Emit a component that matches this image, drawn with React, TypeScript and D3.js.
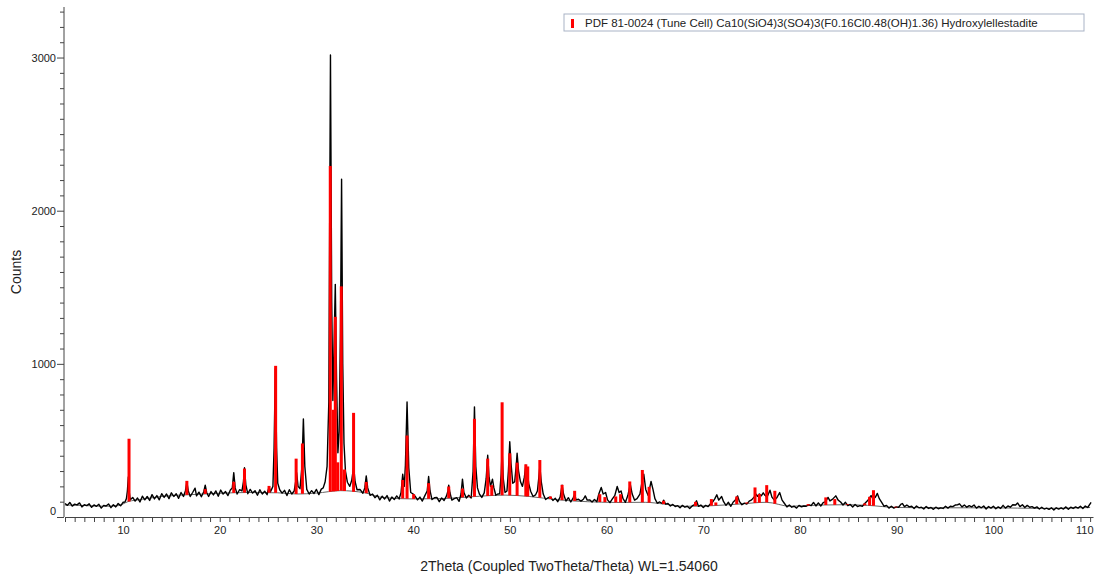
import { useEffect, useRef } from "react";
import { axisBottom, axisLeft, bisector, curveMonotoneX, line, range, scaleLinear, select } from "d3";

// measured scan, [2theta, counts]
const scan: [number, number][] = [
  [4.0, 88], [4.25, 76], [4.5, 95], [4.75, 71], [5.0, 84], [5.25, 79], [5.5, 92], [5.75, 66],
  [6.0, 80], [6.25, 74], [6.5, 86], [6.75, 63], [7.0, 79], [7.25, 70], [7.5, 83], [7.75, 58],
  [8.0, 76], [8.25, 72], [8.5, 85], [8.75, 61], [9.0, 80], [9.25, 66], [9.5, 88], [9.75, 73],
  [10.0, 96], [10.2, 98], [10.35, 120], [10.45, 170], [10.55, 262], [10.65, 160], [10.75, 112],
  [11.0, 128], [11.25, 104], [11.5, 124], [11.75, 98], [12.0, 136], [12.25, 112], [12.5, 134],
  [12.75, 108], [13.0, 146], [13.25, 118], [13.5, 140], [13.75, 112], [14.0, 152], [14.25, 128],
  [14.5, 150], [14.75, 120], [15.0, 158], [15.25, 134], [15.5, 152], [15.75, 122], [16.0, 160],
  [16.25, 134], [16.45, 170], [16.6, 227], [16.75, 170], [16.95, 134], [17.2, 160], [17.45, 188],
  [17.6, 138], [17.85, 162], [18.1, 132], [18.35, 165], [18.5, 208], [18.65, 160], [18.85, 134],
  [19.1, 166], [19.35, 144], [19.6, 170], [19.85, 136], [20.1, 176], [20.35, 150], [20.6, 166],
  [20.85, 140], [21.1, 176], [21.3, 190], [21.45, 290], [21.6, 190], [21.8, 150], [22.05, 178],
  [22.3, 170], [22.45, 230], [22.56, 322], [22.7, 210], [22.9, 152], [23.15, 180], [23.4, 156],
  [23.65, 172], [23.9, 142], [24.15, 178], [24.4, 150], [24.65, 168], [24.9, 146], [25.0, 175],
  [25.1, 195], [25.25, 165], [25.5, 200], [25.62, 450], [25.75, 968], [25.88, 450], [26.0, 220],
  [26.2, 178], [26.45, 156], [26.7, 174], [26.95, 140], [27.2, 178], [27.45, 150], [27.7, 170],
  [27.85, 230], [27.95, 290], [28.1, 200], [28.3, 185], [28.5, 330], [28.65, 641], [28.8, 330],
  [29.0, 180], [29.25, 150], [29.5, 172], [29.75, 154], [30.0, 180], [30.25, 146], [30.5, 182],
  [30.7, 190], [30.9, 230], [31.1, 330], [31.28, 750], [31.45, 3017], [31.58, 1400], [31.7, 760],
  [31.78, 1000], [31.95, 1519], [32.08, 900], [32.22, 420], [32.35, 560], [32.48, 1200],
  [32.6, 2206], [32.72, 1000], [32.85, 480], [33.0, 300], [33.2, 227], [33.45, 200], [33.65, 240],
  [33.85, 330], [34.0, 230], [34.2, 178], [34.5, 180], [34.8, 155], [35.0, 190], [35.15, 268],
  [35.3, 190], [35.55, 142], [35.8, 150], [36.05, 126], [36.3, 142], [36.55, 112], [36.8, 136],
  [37.05, 118], [37.3, 140], [37.55, 104], [37.8, 130], [38.05, 114], [38.3, 138], [38.55, 118],
  [38.75, 160], [38.92, 279], [39.08, 200], [39.2, 340], [39.37, 751], [39.55, 320], [39.75, 160],
  [40.0, 150], [40.2, 136], [40.45, 112], [40.7, 130], [40.95, 104], [41.2, 138], [41.45, 170],
  [41.6, 264], [41.75, 170], [41.95, 114], [42.2, 126], [42.45, 128], [42.7, 100], [42.95, 124],
  [43.2, 108], [43.45, 138], [43.6, 170], [43.68, 208], [43.8, 160], [44.0, 110], [44.25, 120],
  [44.5, 126], [44.75, 102], [44.95, 150], [45.1, 247], [45.25, 160], [45.5, 124], [45.75, 142],
  [46.0, 124], [46.2, 300], [46.34, 719], [46.48, 330], [46.65, 190], [46.85, 150], [47.1, 128],
  [47.35, 158], [47.55, 250], [47.71, 403], [47.85, 260], [48.0, 200], [48.2, 247], [48.35, 190],
  [48.55, 142], [48.75, 150], [48.95, 152], [49.1, 280], [49.2, 430], [49.32, 250], [49.5, 160],
  [49.7, 170], [49.85, 300], [49.99, 491], [50.12, 350], [50.3, 220], [50.5, 230], [50.65, 330],
  [50.75, 416], [50.9, 300], [51.1, 230], [51.3, 200], [51.5, 260], [51.65, 338], [51.8, 300],
  [51.95, 220], [52.15, 168], [52.4, 134], [52.65, 144], [52.85, 170], [53.0, 260], [53.1, 329],
  [53.25, 230], [53.45, 150], [53.7, 114], [53.95, 126], [54.2, 130], [54.45, 108], [54.7, 122],
  [54.95, 100], [55.2, 130], [55.4, 208], [55.55, 150], [55.8, 104], [56.05, 126], [56.3, 98],
  [56.55, 125], [56.7, 149], [56.85, 112], [57.1, 116], [57.35, 104], [57.6, 116], [57.8, 138],
  [58.0, 110], [58.25, 112], [58.5, 98], [58.75, 114], [59.0, 100], [59.2, 150], [59.45, 193],
  [59.65, 150], [59.9, 160], [60.1, 112], [60.35, 94], [60.6, 118], [60.85, 140], [61.1, 199],
  [61.3, 160], [61.5, 170], [61.7, 120], [61.95, 96], [62.2, 140], [62.45, 214], [62.65, 150],
  [62.9, 110], [63.15, 120], [63.45, 150], [63.7, 240], [63.85, 279], [64.05, 180], [64.3, 140],
  [64.6, 232], [64.8, 180], [65.0, 120], [65.25, 90], [65.5, 98], [65.75, 88], [65.9, 110],
  [66.1, 84], [66.35, 88], [66.6, 72], [66.85, 82], [67.1, 68], [67.35, 74], [67.6, 60],
  [67.85, 76], [68.1, 64], [68.35, 70], [68.6, 56], [68.85, 72], [69.1, 80], [69.3, 106],
  [69.5, 70], [69.75, 78], [70.0, 62], [70.25, 76], [70.5, 68], [70.75, 86], [71.0, 100],
  [71.2, 120], [71.4, 145], [71.6, 110], [71.9, 134], [72.1, 100], [72.35, 76], [72.6, 96],
  [72.85, 70], [73.1, 98], [73.3, 110], [73.55, 138], [73.75, 100], [74.0, 80], [74.25, 90],
  [74.5, 84], [74.75, 104], [75.0, 112], [75.25, 130], [75.45, 149], [75.6, 135], [75.8, 150],
  [76.0, 138], [76.2, 158], [76.4, 140], [76.6, 130], [76.9, 175], [77.1, 130], [77.35, 110],
  [77.6, 125], [77.9, 160], [78.15, 110], [78.4, 88], [78.65, 66], [78.9, 78], [79.15, 64],
  [79.4, 70], [79.65, 58], [79.9, 76], [80.15, 66], [80.4, 72], [80.65, 70], [80.9, 80],
  [81.15, 74], [81.4, 95], [81.65, 72], [81.9, 92], [82.15, 72], [82.4, 94], [82.65, 100],
  [82.9, 128], [83.1, 105], [83.35, 115], [83.7, 138], [83.95, 110], [84.2, 98], [84.45, 78],
  [84.7, 96], [84.95, 74], [85.2, 82], [85.45, 66], [85.7, 82], [85.95, 68], [86.2, 74],
  [86.45, 70], [86.7, 88], [86.95, 104], [87.15, 120], [87.35, 140], [87.55, 118], [87.8, 130],
  [88.0, 154], [88.2, 120], [88.45, 96], [88.7, 70], [88.95, 76], [89.2, 58], [89.45, 70],
  [89.7, 58], [89.95, 66], [90.2, 64], [90.45, 84], [90.6, 88], [90.8, 68], [91.05, 78],
  [91.3, 66], [91.55, 70], [91.8, 56], [92.05, 72], [92.3, 60], [92.55, 64], [92.8, 52],
  [93.05, 68], [93.3, 56], [93.55, 62], [93.8, 50], [94.05, 64], [94.3, 54], [94.55, 60],
  [94.8, 56], [95.05, 70], [95.3, 58], [95.55, 70], [95.8, 68], [96.05, 78], [96.3, 80],
  [96.5, 86], [96.75, 66], [97.0, 78], [97.25, 64], [97.5, 74], [97.75, 66], [98.0, 78],
  [98.25, 58], [98.5, 70], [98.75, 60], [99.0, 72], [99.25, 52], [99.5, 68], [99.75, 58],
  [100.0, 70], [100.25, 54], [100.5, 66], [100.75, 56], [101.0, 76], [101.25, 58], [101.5, 72],
  [101.75, 64], [102.0, 80], [102.3, 78], [102.5, 92], [102.75, 68], [103.0, 80], [103.25, 62],
  [103.5, 76], [103.75, 64], [104.0, 68], [104.25, 58], [104.5, 66], [104.75, 52], [105.0, 64],
  [105.25, 52], [105.5, 58], [105.75, 50], [106.0, 60], [106.25, 46], [106.5, 60], [106.75, 52],
  [107.0, 60], [107.25, 52], [107.5, 66], [107.75, 50], [108.0, 64], [108.25, 56], [108.5, 66],
  [108.75, 58], [109.0, 70], [109.25, 56], [109.5, 72], [109.75, 62], [110.0, 86], [110.1, 96],
];

// fitted background, [2theta, counts]
const background: [number, number][] = [
  [4, 78], [6, 75], [8, 70], [9.5, 74], [10.5, 100], [12, 116], [14, 134], [17, 146], [20, 155],
  [23, 160], [26, 158], [28, 150], [30, 156], [32.5, 172], [35, 158], [37, 126], [40, 118],
  [43, 120], [46, 132], [49.5, 143], [52, 134], [55, 112], [58, 100], [61, 95], [64, 96],
  [66, 84], [68, 70], [71, 74], [74, 86], [76.5, 96], [79, 70], [82, 78], [84.5, 80], [87, 76],
  [90, 62], [95, 60], [100, 60], [105, 56], [110, 62],
];

// PDF 81-0024 stick pattern, [2theta, top counts]
const sticks: [number, number][] = [
  [10.62, 511], [16.6, 236], [18.5, 182], [21.45, 230], [22.56, 316], [25.1, 203], [25.78, 987],
  [27.9, 381], [28.55, 480], [31.43, 2292], [31.75, 700], [31.95, 1307], [32.2, 357], [32.57, 1506],
  [32.9, 310], [33.84, 680], [35.15, 229], [38.92, 242], [39.37, 532], [40.05, 149], [41.6, 221],
  [43.68, 199], [45.1, 186], [45.9, 136], [46.34, 641], [47.71, 381], [48.13, 208], [49.2, 749],
  [49.99, 416], [50.75, 355], [51.65, 344], [51.85, 330], [53.1, 372], [54.2, 134], [55.4, 210],
  [56.7, 171], [59.3, 149], [59.83, 130], [60.95, 134], [61.45, 149], [62.4, 232], [63.7, 307],
  [64.4, 197], [65.9, 106], [69.2, 99], [70.84, 117], [71.3, 95], [73.46, 134], [74.5, 95],
  [75.35, 193], [75.8, 150], [76.56, 208], [77.4, 171], [80.84, 84], [82.67, 128], [83.6, 117],
  [84.9, 84], [86.7, 89], [87.2, 132], [87.6, 175], [89.9, 67],
];

const yLabels = [0, 1000, 2000, 3000];
const legendText = "PDF 81-0024 (Tune Cell) Ca10(SiO4)3(SO4)3(F0.16Cl0.48(OH)1.36) Hydroxylellestadite";
const xTitle = "2Theta (Coupled TwoTheta/Theta) WL=1.54060";
const yTitle = "Counts";

const FONT = "'Liberation Sans', Arial, sans-serif";
const AXIS = "#444";

const x = scaleLinear().domain([4, 110.3]).range([65, 1093]);
const y = scaleLinear().domain([0, 3330]).range([517, 7]);

function bgAt(t: number) {
  const i = Math.max(1, Math.min(background.length - 1, bisector((d: [number, number]) => d[0]).left(background, t)));
  const [x0, y0] = background[i - 1];
  const [x1, y1] = background[i];
  return y0 + ((t - x0) / (x1 - x0)) * (y1 - y0);
}

function XAxis() {
  const ref = useRef<SVGGElement>(null);
  useEffect(() => {
    const g = select(ref.current);
    g.call(
      axisBottom(x)
        .tickValues(range(4, 111))
        .tickSize(5)
        .tickSizeOuter(0)
        .tickFormat((d: any) => (d % 10 === 0 ? String(d) : ""))
    );
    g.attr("font-family", FONT).attr("font-size", 11);
    g.select(".domain").attr("stroke", AXIS);
    g.selectAll(".tick line").attr("stroke", AXIS);
    g.selectAll(".tick text").attr("fill", "#222").attr("y", 9);
    // last label kept inside the frame
    g.selectAll(".tick text")
      .filter((d: any) => d === 110)
      .attr("text-anchor", "end")
      .attr("x", 3);
  }, []);
  return <g ref={ref} transform={`translate(0,${y(0)})`} />;
}

function YAxis() {
  const ref = useRef<SVGGElement>(null);
  useEffect(() => {
    const g = select(ref.current);
    g.call(
      axisLeft(y)
        .tickValues(range(0, 3301, 100))
        .tickSize(4)
        .tickSizeOuter(0)
        .tickFormat((d: any) => (yLabels.includes(d) ? String(d) : ""))
    );
    g.attr("font-family", FONT).attr("font-size", 11);
    g.select(".domain").attr("stroke", AXIS).attr("d", `M0,${y(0)}V${y.range()[1]}`);
    g.selectAll(".tick line")
      .attr("stroke", AXIS)
      .attr("x2", (d: any) => (d % 1000 === 0 ? -7 : -4));
    g.selectAll(".tick text")
      .attr("fill", "#222")
      .attr("x", -8)
      .attr("dy", (d: any) => (d === 0 ? "-0.2em" : "0.32em"));
  }, []);
  return <g ref={ref} transform={`translate(${x(4) - 1},0)`} />;
}

export default function App() {
  const scanLine = line<[number, number]>()
    .x((d) => x(d[0]))
    .y((d) => y(d[1]));
  const bgLine = line<[number, number]>()
    .x((d) => x(d[0]))
    .y((d) => y(d[1]))
    .curve(curveMonotoneX);

  return (
    <svg
      width={1094}
      height={577}
      style={{ position: "absolute", left: 0, top: 0, background: "#fff" }}
    >
      <path d={bgLine(background) ?? ""} fill="none" stroke="#666" strokeWidth={1} />
      <path d={scanLine(scan) ?? ""} fill="none" stroke="#000" strokeWidth={1.4} strokeLinejoin="round" />
      {sticks.map(([t, c]) => (
        <rect
          key={`stick-${t}`}
          x={x(t) - 1.5}
          y={y(c)}
          width={3}
          height={Math.max(0, y(bgAt(t)) - y(c))}
          fill="#ff0000"
        />
      ))}
      <XAxis />
      <YAxis />
      <text x={569} y={571} textAnchor="middle" fontFamily={FONT} fontSize={14} fill="#222">
        {xTitle}
      </text>
      <text
        transform="translate(21,272) rotate(-90)"
        textAnchor="middle"
        fontFamily={FONT}
        fontSize={14}
        fill="#222"
      >
        {yTitle}
      </text>
      <g>
        <rect x={564} y={14} width={520} height={17} fill="#fff" stroke="#a9b3c6" />
        <rect x={571} y={19} width={3} height={9} fill="#ff0000" />
        <text x={585} y={26.5} fontFamily={FONT} fontSize={11.5} fill="#222">
          {legendText}
        </text>
      </g>
    </svg>
  );
}
